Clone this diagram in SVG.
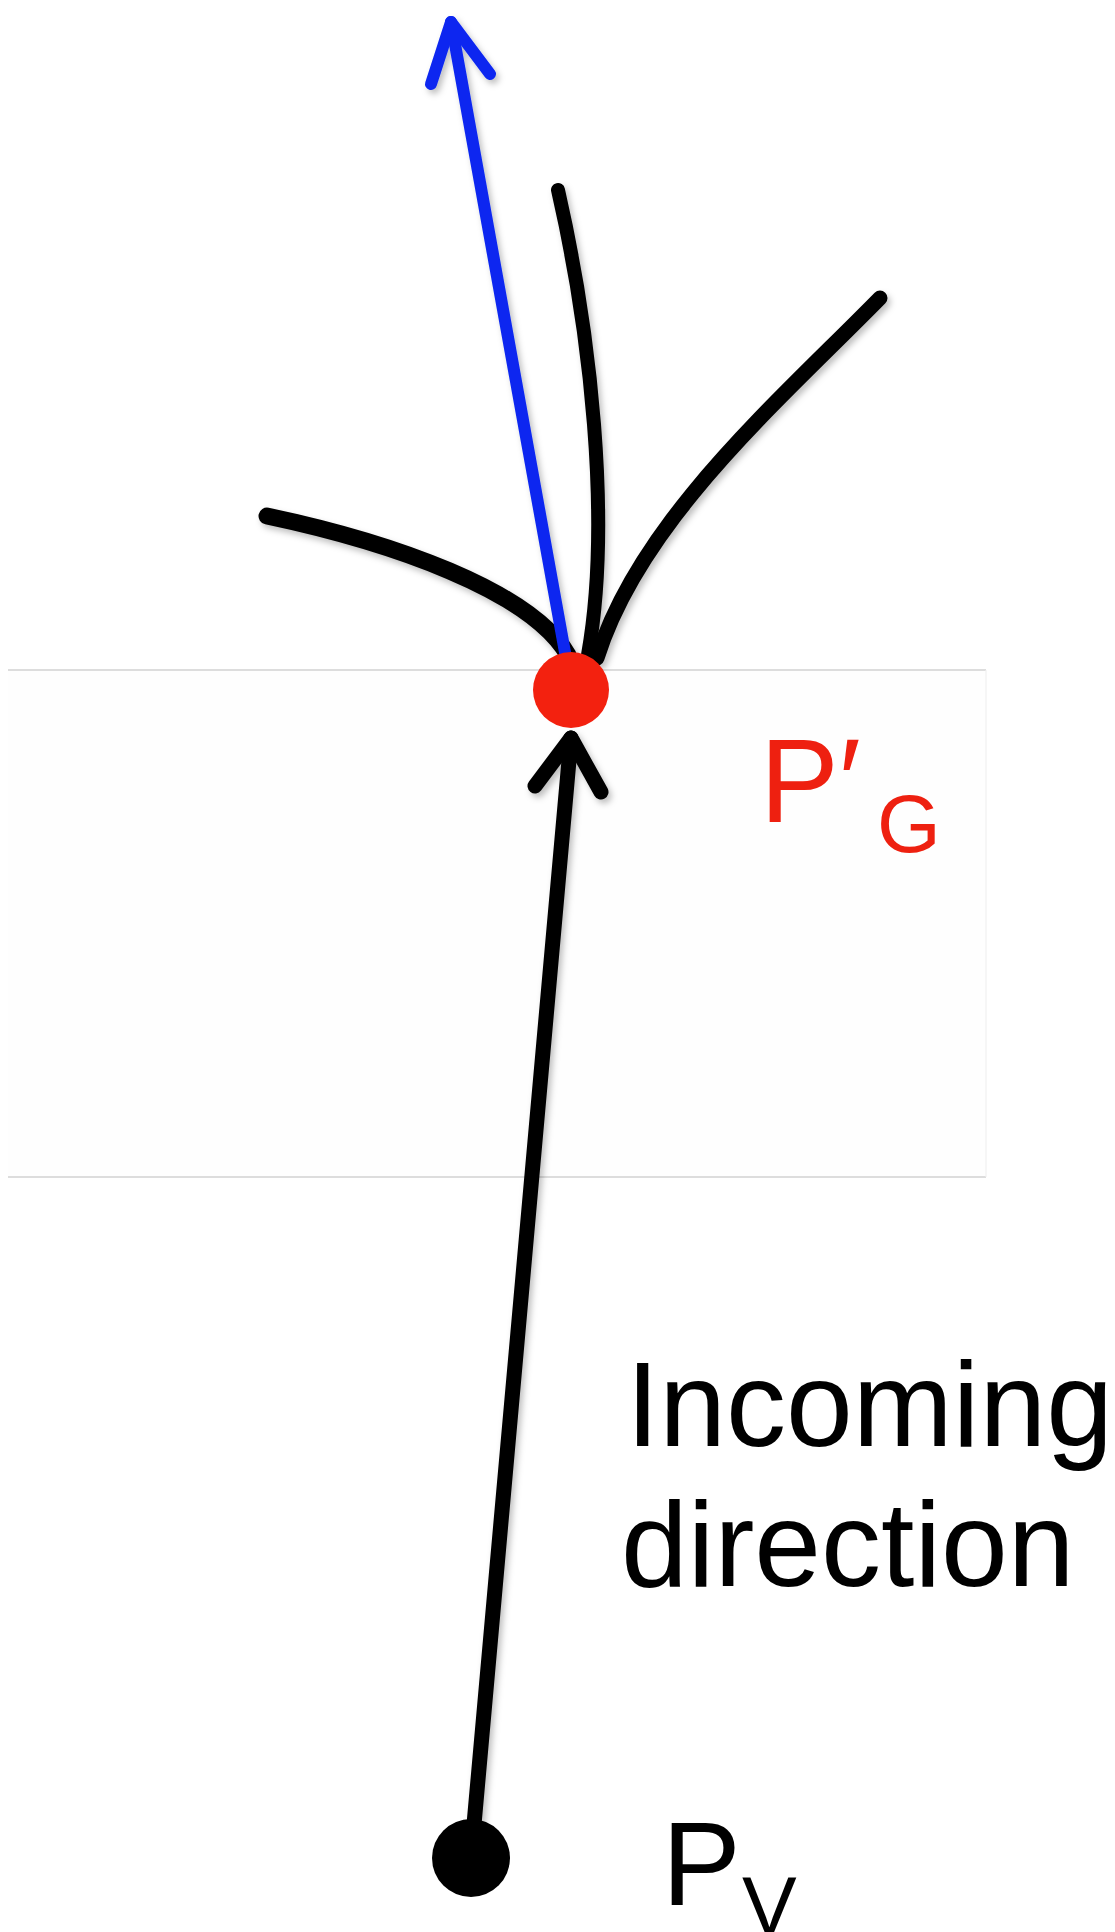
<svg xmlns="http://www.w3.org/2000/svg" width="1115" height="1932" viewBox="0 0 1115 1932">
<defs>
<style>
.ray{fill:none;stroke:#000;stroke-linecap:round;stroke-linejoin:round}
.blue{fill:none;stroke:#0a28f0;stroke-width:12;stroke-linecap:round;stroke-linejoin:round}
.lbl{font-family:"Liberation Sans",Arial,sans-serif}
.frame{stroke:#d2d2d2;stroke-width:1.6;fill:none}
</style>
<filter id="sh" x="-20%" y="-20%" width="140%" height="140%">
<feDropShadow dx="3" dy="4" stdDeviation="3" flood-color="#000" flood-opacity="0.25"/>
</filter>
</defs>
<rect width="1115" height="1932" fill="#fff"/>
<g id="band">
<rect x="8" y="670" width="978" height="507" fill="#fefefe" stroke="none"/>
<line class="frame" x1="8" y1="670" x2="986" y2="670"/>
<line class="frame" x1="8" y1="1177" x2="986" y2="1177"/>
<line x1="986" y1="670" x2="986" y2="1177" stroke="#f0f0f0" stroke-width="1.2"/>
</g>
<g id="connectors" filter="url(#sh)">
<path class="ray" d="M267,516 C390,542 530,590 568,655" stroke-width="17"/>
<path class="ray" d="M558,190 C590,330 612,520 588,655" stroke-width="14"/>
<path class="ray" d="M880,298 C780,400 640,520 597,658" stroke-width="15"/>
<path class="blue" d="M570,680 L451,22"/>
<path class="blue" d="M431,84 L451,22 L490,74"/>
<path class="ray" d="M471,1858 L571,738" stroke-width="15"/>
<path class="ray" d="M535,786 L571,738 L601,792" stroke-width="15"/>
</g>
<g id="node-pg">
<circle cx="571" cy="690" r="38" fill="#f3210f"/>
<text class="lbl" x="760" y="822" font-size="118" fill="#ee2010">P′</text>
<text class="lbl" x="877" y="852" font-size="82" fill="#ee2010">G</text>
</g>
<g id="node-pv">
<circle cx="471" cy="1858" r="39" fill="#000"/>
<text class="lbl" x="662" y="1905" font-size="118" fill="#000">P</text>
<text class="lbl" x="742" y="1934" font-size="82" fill="#000">V</text>
</g>
<g id="label-incoming">
<text class="lbl" x="626" y="1446" font-size="120" fill="#000">Incoming</text>
<text class="lbl" x="621" y="1586" font-size="120" fill="#000">direction</text>
</g>
</svg>
